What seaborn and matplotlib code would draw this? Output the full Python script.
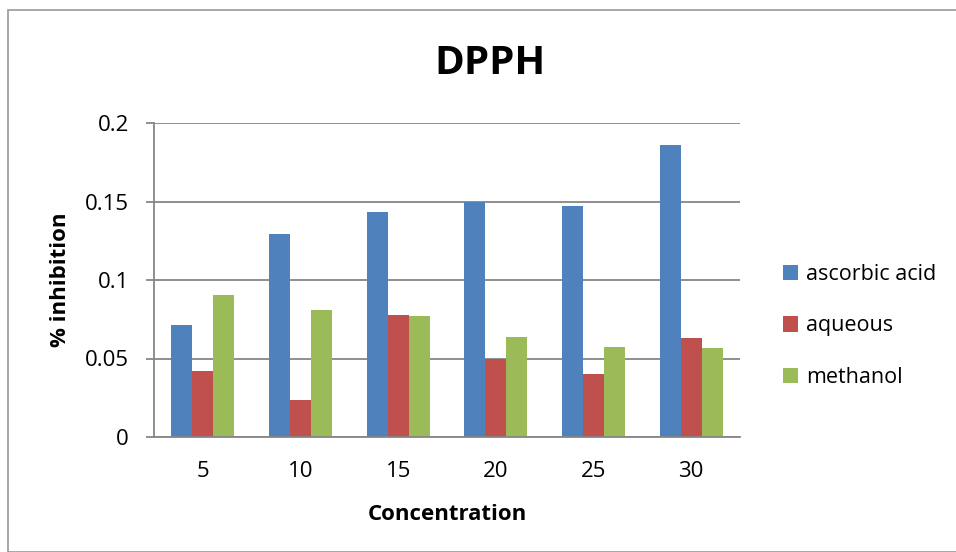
import matplotlib
matplotlib.use('Agg')
import matplotlib.pyplot as plt
import seaborn as sns
import pandas as pd
from matplotlib.patches import Rectangle

concentrations = [5, 10, 15, 20, 25, 30]
ascorbic_acid = [0.0713, 0.129, 0.143, 0.150, 0.1474, 0.1857]
aqueous = [0.0423, 0.0238, 0.0774, 0.050, 0.0402, 0.0630]
methanol = [0.0902, 0.0809, 0.0768, 0.0634, 0.0574, 0.0570]
series_names = ['ascorbic acid', 'aqueous', 'methanol']
colors = ['#4F81BD', '#C0504D', '#9BBB59']

rows = []
for name, vals in zip(series_names, [ascorbic_acid, aqueous, methanol]):
    for c, v in zip(concentrations, vals):
        rows.append({'Concentration': str(c), 'value': v, 'series': name})
df = pd.DataFrame(rows)

sns.set_style('white')
plt.rcParams['font.family'] = ['Open Sans', 'DejaVu Sans']
plt.rcParams['text.color'] = 'black'
plt.rcParams['axes.labelcolor'] = 'black'
plt.rcParams['xtick.color'] = 'black'
plt.rcParams['ytick.color'] = 'black'

fig = plt.figure(figsize=(9.56, 5.52), dpi=100)
ax = fig.add_axes([154 / 956, 1 - 437 / 552, 586 / 956, 314 / 552])

sns.barplot(data=df, x='Concentration', y='value', hue='series',
            palette=colors, width=0.645, saturation=1, linewidth=0, ax=ax, legend=True)

grid_c = '#868686'
ax.set_ylim(0, 0.2)
ax.set_xlim(-0.5, 5.5)
ax.set_yticks([0, 0.05, 0.1, 0.15, 0.2])
ax.set_yticklabels(['0', '0.05', '0.1', '0.15', '0.2'])
ax.yaxis.grid(True, color=grid_c, linewidth=1.3)
ax.set_axisbelow(True)
for s in ['top', 'right']:
    ax.spines[s].set_visible(False)
for s in ['left', 'bottom']:
    ax.spines[s].set_color(grid_c)
    ax.spines[s].set_linewidth(1.3)
ax.set_xticks([i - 0.5 for i in range(7)], minor=True)
ax.tick_params(axis='x', which='major', length=0, pad=17, labelsize=16, labelcolor='black')
ax.tick_params(axis='x', which='minor', length=6, color=grid_c, width=1.3)
ax.tick_params(axis='y', length=6, color=grid_c, width=1.3, labelsize=16, pad=12,
               left=True, labelcolor='black')
ax.set_xlabel('Concentration', fontsize=16, fontweight='bold', labelpad=16)
ax.set_ylabel('% inhibition', fontsize=16, fontweight='bold', labelpad=10)
fig.suptitle('DPPH', x=490 / 956, y=1 - 44 / 552, fontsize=29, fontweight='bold', va='top')

handles, labels = ax.get_legend_handles_labels()
ax.legend(handles, labels, loc='center left', bbox_to_anchor=(764 / 956, 1 - 326 / 552),
          bbox_transform=fig.transFigure, frameon=False, fontsize=15.5,
          handlelength=0.7, handleheight=0.7, handletextpad=0.35, labelspacing=1.4)

fig.patches.append(Rectangle((8 / 956, 0), 1, 1 - 10 / 552, transform=fig.transFigure,
                             fill=False, edgecolor='#999999', linewidth=1.2))

fig.savefig('out.png', dpi=100)
